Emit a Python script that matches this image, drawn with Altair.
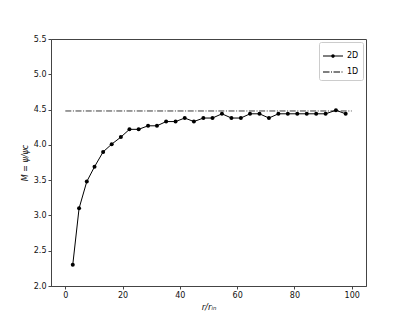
import altair as alt
import pandas as pd

# 2D series
r_2d = [2.6, 4.8, 7.5, 10.2, 13.2, 16.2, 19.4, 22.4, 25.6, 28.9, 32.0,
        35.2, 38.5, 41.7, 44.9, 48.2, 51.4, 54.7, 58.0, 61.3, 64.5,
        67.8, 71.1, 74.4, 77.7, 81.0, 84.3, 87.6, 90.9, 94.5, 97.9]
m_2d = [2.30, 3.10, 3.48, 3.69, 3.90, 4.01, 4.11, 4.22, 4.22, 4.27, 4.27,
        4.33, 4.33, 4.38, 4.33, 4.38, 4.38, 4.44, 4.38, 4.38, 4.44,
        4.44, 4.38, 4.44, 4.44, 4.44, 4.44, 4.44, 4.44, 4.49, 4.44]

# 1D reference level
r_1d = [0, 100]
m_1d = [4.48, 4.48]

series_names = ["2D", "1D"]
x_ticks = [0, 20, 40, 60, 80, 100]
y_ticks = [2.0, 2.5, 3.0, 3.5, 4.0, 4.5, 5.0, 5.5]

df2 = pd.DataFrame({"r": r_2d, "M": m_2d, "series": "2D"})
df1 = pd.DataFrame({"r": r_1d, "M": m_1d, "series": "1D"})

FONT = "DejaVu Sans"

xscale = alt.Scale(domain=[-5, 105], nice=False, zero=False)
yscale = alt.Scale(domain=[2.0, 5.5], nice=False, zero=False)

xax = alt.Axis(values=x_ticks, title="r/rᵢₙ", grid=False, tickSize=3,
               labelFontSize=8, titleFontSize=8.5, titleFontStyle="italic",
               titleFontWeight="normal", labelPadding=2, titlePadding=3,
               domainColor="#444", tickColor="#444", labelColor="#111",
               titleColor="#111")
yax = alt.Axis(values=y_ticks, format=".1f", title="M = ψ/ψc", grid=False,
               tickSize=3, labelFontSize=8, titleFontSize=8,
               titleFontStyle="italic", titleFontWeight="normal",
               labelPadding=2, titlePadding=4, domainColor="#444",
               tickColor="#444", labelColor="#111", titleColor="#111")

X = alt.X("r:Q", scale=xscale, axis=xax)
Y = alt.Y("M:Q", scale=yscale, axis=yax)

line1d = alt.Chart(df1).mark_line(color="#222", strokeWidth=0.9,
                                  strokeDash=[6, 1.6, 1, 1.6]).encode(x=X, y=Y)
line2d = alt.Chart(df2).mark_line(color="black", strokeWidth=1).encode(x=X, y=Y)
pts2d = alt.Chart(df2).mark_point(filled=True, color="black", size=16,
                                  opacity=1).encode(x=X, y=Y)

path_2d = ("M-1,-0.05H1V0.05H-1Z "
           "M-0.18,0A0.18,0.18 0 1,1 0.18,0A0.18,0.18 0 1,1 -0.18,0Z")
path_1d = ("M-1,-0.04H-0.35V0.04H-1Z "
           "M-0.2,-0.04H-0.1V0.04H-0.2Z "
           "M0.05,-0.04H0.7V0.04H0.05Z "
           "M0.85,-0.04H0.95V0.04H0.85Z")

legend_layer = alt.Chart(df2).mark_point(filled=True, opacity=0,
                                         color="black").encode(
    x=X, y=Y,
    shape=alt.Shape("series:N",
                    scale=alt.Scale(domain=series_names, range=[path_2d, path_1d]),
                    legend=alt.Legend(title=None, orient="top-right",
                                      offset=3, symbolSize=400,
                                      symbolFillColor="black",
                                      symbolStrokeWidth=0,
                                      symbolOpacity=1,
                                      labelFontSize=8, labelFont=FONT,
                                      labelColor="black",
                                      padding=4, rowPadding=2,
                                      fillColor="white", strokeColor="#ccc",
                                      cornerRadius=2)),
)

chart = alt.layer(line1d, line2d, pts2d, legend_layer).properties(
    width=315, height=247,
    autosize=alt.AutoSizeParams(type="none"),
    padding={"left": 43, "top": 31, "right": 33, "bottom": 32},
).configure(font=FONT).configure_view(
    stroke="#444", strokeWidth=1
).configure_axis(labelFont=FONT, titleFont=FONT)

chart.save("out.html", embed_options={"renderer": "svg", "actions": False})
